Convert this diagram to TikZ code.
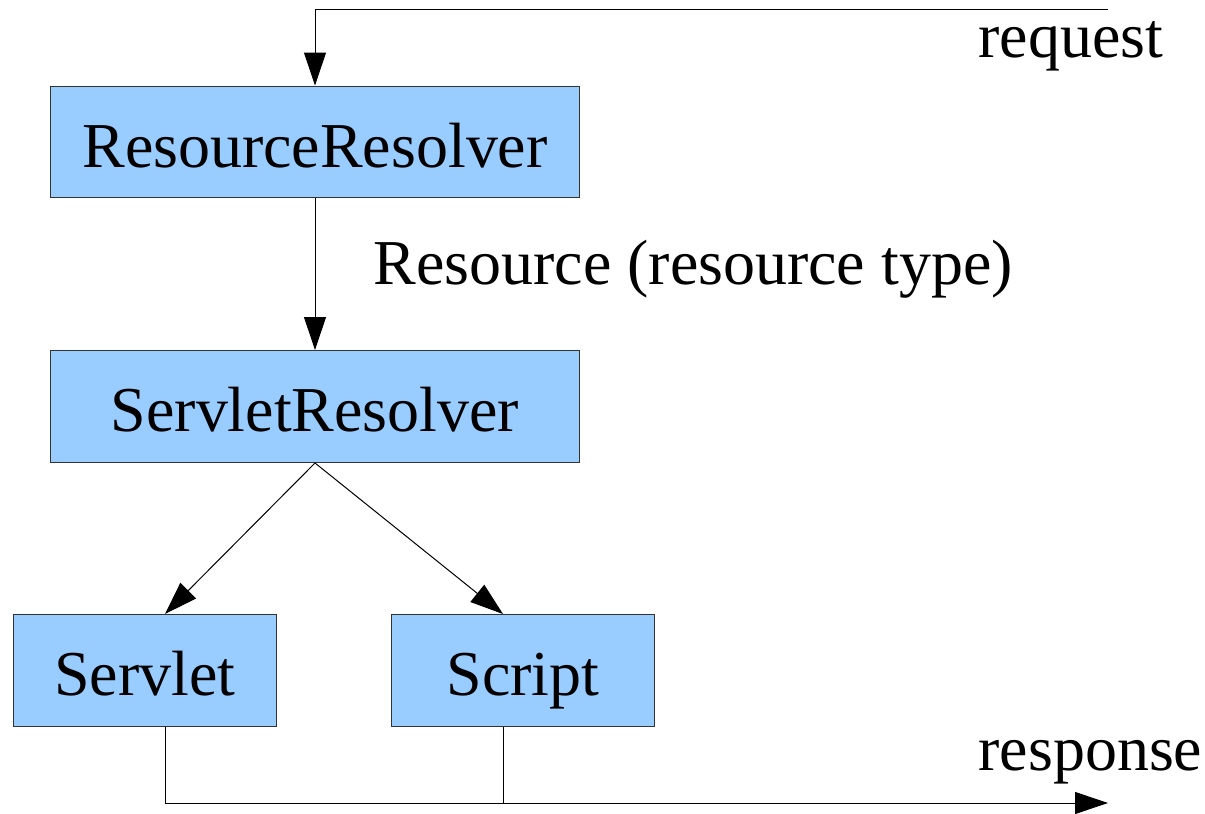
\documentclass[tikz,border=0pt]{standalone}
\usepackage{fontspec}
\setmainfont{Liberation Serif}
\usetikzlibrary{arrows.meta,positioning}
\definecolor{boxblue}{RGB}{153,204,255}
\definecolor{boxline}{RGB}{51,51,51}
\begin{document}
\begin{tikzpicture}[x=0.02cm,y=-0.02cm,line width=0.57pt]
        \tikzstyle{every node}+=[inner sep=0pt,font=\fontsize{36.4}{44}\selectfont]
        \tikzstyle{unit}=[draw=boxline,fill=boxblue,minimum height=2.24cm,text height=1.02cm,text depth=0pt]
        \tikzstyle{wide}=[unit,minimum width=10.6cm]
        \tikzstyle{narrow}=[unit,minimum width=5.28cm]
        \tikzstyle{arr}=[-{Triangle[length=0.66cm,width=0.44cm]}]
        \useasboundingbox (0,0) rectangle (1205,814);
        % boxes
        \node [wide] (resres) at (315,142) {ResourceResolver};
        \node [wide] (servres) at (315,406.5) {ServletResolver};
        \node [narrow] (servlet) at (145,670.5) {Servlet};
        \node [narrow] (script) at (523,670.5) {Script};
        % labels
        \node [anchor=base west] (reqlbl) at (978,58) {request};
        \node [anchor=base west] (typelbl) at (373,285) {Resource (resource type)};
        \node [anchor=base west] (resplbl) at (978,770) {response};
        % free ends
        \coordinate (reqin) at (1108,10);
        \coordinate (servletin) at (165,614);
        \coordinate (scriptin) at (503,614);
        \coordinate (servletout) at (165,727);
        \coordinate (scriptout) at (503,727);
        \coordinate (respout) at (1108,803);
        % arrows
        \draw [arr] (reqin) -| (resres.north);
        \draw [arr] (resres.south) -- (servres.north);
        \draw [arr] (servres.south) -- (servletin);
        \draw [arr] (servres.south) -- (scriptin);
        \draw [arr] (servletout) |- (respout);
        \draw (scriptout) -- (scriptout |- respout);
\end{tikzpicture}
\end{document}
